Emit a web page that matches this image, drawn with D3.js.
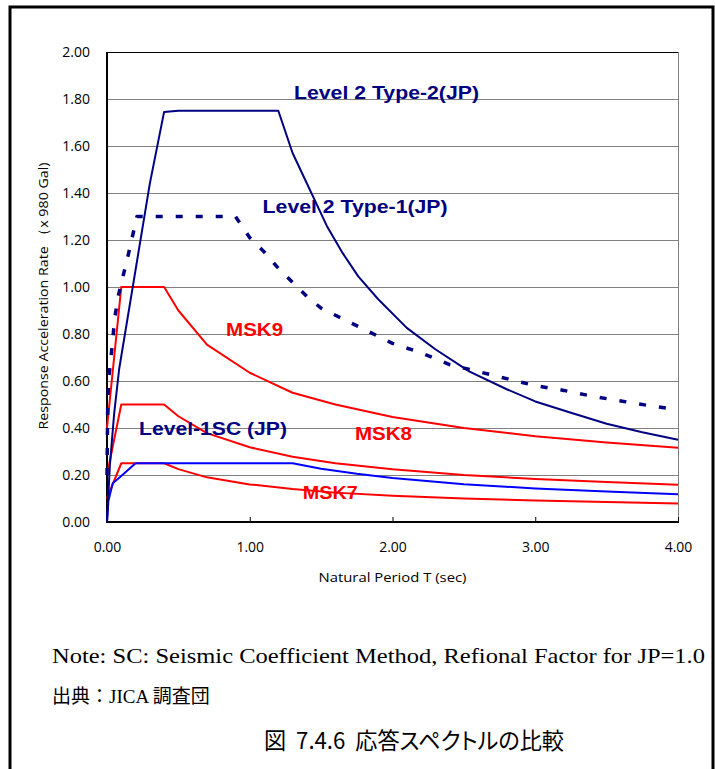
<!DOCTYPE html>
<html>
<head>
<meta charset="utf-8">
<script src="https://cdn.jsdelivr.net/npm/d3@7"></script>
<style>
  body { margin: 0; background: #fff; }
  svg { display: block; }
</style>
</head>
<body>
<div id="chart"></div>
<script>
// Spectrum values: [period T (sec), rate (x 980 Gal)]
var level2Type2 = [[0, 0], [0.02, 0.24], [0.05, 0.46], [0.085, 0.65], [0.3, 1.44], [0.4, 1.745], [0.5, 1.75],
  [1.2, 1.75], [1.3, 1.57], [1.54, 1.26], [1.65, 1.145], [1.76, 1.045], [1.9, 0.948], [2.1, 0.826],
  [2.3, 0.735], [2.54, 0.64], [2.8, 0.565], [3.0, 0.513], [3.25, 0.465], [3.5, 0.418], [3.75, 0.382], [4.0, 0.35]];
var level2Type1 = [[0, 0.2], [0.005, 0.5], [0.014, 0.62], [0.028, 0.7], [0.042, 0.79], [0.056, 0.875], [0.08, 0.965],
  [0.15, 1.14], [0.21, 1.3], [0.9, 1.3], [1.0, 1.21], [1.1, 1.15], [1.2, 1.08], [1.3, 1.02], [1.4, 0.96], [1.5, 0.91],
  [1.65, 0.865], [1.8, 0.82], [2.0, 0.76], [2.2, 0.72], [2.4, 0.67], [2.6, 0.64], [2.8, 0.61], [3.0, 0.58],
  [3.2, 0.56], [3.4, 0.535], [3.6, 0.515], [3.8, 0.495], [4.0, 0.477]];
var level1SC = [[0, 0], [0.01, 0.09], [0.04, 0.165], [0.09, 0.19], [0.2, 0.25], [1.3, 0.25], [1.5, 0.227],
  [1.75, 0.205], [2.0, 0.187], [2.5, 0.161], [3.0, 0.143], [3.5, 0.13], [4.0, 0.118]];
var msk9 = [[0, 0.4], [0.1, 1.0], [0.4, 1.0], [0.5, 0.9], [0.7, 0.755], [1.0, 0.635], [1.3, 0.55], [1.6, 0.5],
  [2.0, 0.447], [2.5, 0.4], [3.0, 0.365], [3.5, 0.338], [4.0, 0.316]];
var msk8 = [[0, 0.2], [0.1, 0.5], [0.4, 0.5], [0.5, 0.45], [0.7, 0.378], [1.0, 0.318], [1.3, 0.278], [1.6, 0.25],
  [2.0, 0.224], [2.5, 0.2], [3.0, 0.183], [3.5, 0.17], [4.0, 0.158]];
var msk7 = [[0, 0.1], [0.1, 0.25], [0.4, 0.25], [0.5, 0.225], [0.7, 0.19], [1.0, 0.16], [1.3, 0.14], [1.6, 0.125],
  [2.0, 0.112], [2.5, 0.1], [3.0, 0.092], [3.5, 0.085], [4.0, 0.079]];

var xTicks = [0, 1, 2, 3, 4];
var yTicks = [0, 0.2, 0.4, 0.6, 0.8, 1.0, 1.2, 1.4, 1.6, 1.8, 2.0];

var series = [
  { name: 'MSK7', data: msk7, color: '#ff0000', width: 2, dash: null },
  { name: 'MSK8', data: msk8, color: '#ff0000', width: 2, dash: null },
  { name: 'MSK9', data: msk9, color: '#ff0000', width: 2, dash: null },
  { name: 'Level-1SC (JP)', data: level1SC, color: '#0000ff', width: 2, dash: null },
  { name: 'Level 2 Type-1(JP)', data: level2Type1, color: '#000080', width: 3.5, dash: '7,13' },
  { name: 'Level 2 Type-2(JP)', data: level2Type2, color: '#000080', width: 2, dash: null }
];

// Labels placed inside the plot (in data units)
var labels = [
  { text: 'Level 2 Type-2(JP)', t: 1.31, v: 1.80, len: 185, color: '#000080' },
  { text: 'Level 2 Type-1(JP)', t: 1.09, v: 1.315, len: 185, color: '#000080' },
  { text: 'Level-1SC (JP)', t: 0.224, v: 0.37, len: 148, color: '#000080' },
  { text: 'MSK9', t: 0.834, v: 0.791, len: 57, color: '#ff0000' },
  { text: 'MSK8', t: 1.737, v: 0.349, len: 57, color: '#ff0000' },
  { text: 'MSK7', t: 1.372, v: 0.098, len: 55, color: '#ff0000' }
];

var W = 715, H = 769;
var plot = { left: 107, top: 52, right: 678, bottom: 522 };

var svg = d3.select('#chart').append('svg')
  .attr('width', W)
  .attr('height', H);

// outer frame
svg.append('path')
  .attr('d', 'M10,' + (H + 5) + 'V7H713V' + (H + 5))
  .attr('fill', 'none')
  .attr('stroke', '#000')
  .attr('stroke-width', 3);

var x = d3.scaleLinear().domain([0, 4]).range([plot.left, plot.right]);
var y = d3.scaleLinear().domain([0, 2]).range([plot.bottom, plot.top]);

var tickFont = '"Open Sans", Carlito, sans-serif';

// y grid + labels
var yAxis = svg.append('g')
  .attr('transform', 'translate(' + plot.left + ',0)')
  .call(d3.axisLeft(y).tickValues(yTicks).tickSize(-(plot.right - plot.left))
    .tickPadding(17).tickFormat(d3.format('.2f')));
yAxis.select('.domain').remove();
yAxis.selectAll('line').attr('stroke', '#808080');
yAxis.selectAll('.tick').filter(function (d) { return d === 2; }).select('line').attr('stroke', '#000');
yAxis.selectAll('text')
  .attr('fill', '#000')
  .style('font-family', tickFont)
  .style('font-size', '14px');

// right border of plot
svg.append('line')
  .attr('x1', plot.right + 0.5).attr('x2', plot.right + 0.5)
  .attr('y1', plot.top).attr('y2', plot.bottom)
  .attr('stroke', '#808080');

// x axis with inner ticks
var xAxis = svg.append('g')
  .attr('transform', 'translate(0,' + plot.bottom + ')')
  .call(d3.axisBottom(x).tickValues(xTicks).tickSize(-5).tickPadding(20)
    .tickFormat(d3.format('.2f')));
xAxis.select('.domain').remove();
xAxis.selectAll('line').attr('stroke', '#000').attr('stroke-width', 1);
xAxis.selectAll('text')
  .attr('fill', '#000')
  .style('font-family', tickFont)
  .style('font-size', '14px');

// axis lines
svg.append('line')
  .attr('x1', plot.left).attr('x2', plot.left)
  .attr('y1', plot.top).attr('y2', plot.bottom + 1)
  .attr('stroke', '#000').attr('stroke-width', 2);
svg.append('line')
  .attr('x1', plot.left - 1).attr('x2', plot.right + 1)
  .attr('y1', plot.bottom).attr('y2', plot.bottom)
  .attr('stroke', '#000').attr('stroke-width', 2);

// axis titles
svg.append('text')
  .attr('x', (plot.left + plot.right) / 2)
  .attr('y', 582)
  .attr('text-anchor', 'middle')
  .attr('textLength', 148)
  .attr('lengthAdjust', 'spacingAndGlyphs')
  .style('font-family', tickFont)
  .style('font-size', '13.5px')
  .text('Natural Period T (sec)');

svg.append('text')
  .attr('transform', 'translate(48,' + 296 + ') rotate(-90)')
  .attr('text-anchor', 'middle')
  .attr('textLength', 267)
  .attr('lengthAdjust', 'spacingAndGlyphs')
  .style('font-family', tickFont)
  .style('font-size', '13.5px')
  .text('Response Acceleration Rate （x 980 Gal)');

// curves
var line = d3.line()
  .x(function (d) { return x(d[0]); })
  .y(function (d) { return y(d[1]); });

var curves = svg.append('g');
series.forEach(function (s) {
  curves.append('path')
    .datum(s.data)
    .attr('fill', 'none')
    .attr('stroke', s.color)
    .attr('stroke-width', s.width)
    .attr('stroke-dasharray', s.dash)
    .attr('stroke-linejoin', 'round')
    .attr('d', line);
});

// labels
svg.append('g').selectAll('text')
  .data(labels)
  .enter()
  .append('text')
  .attr('x', function (d) { return x(d.t); })
  .attr('y', function (d) { return y(d.v); })
  .attr('fill', function (d) { return d.color; })
  .attr('textLength', function (d) { return d.len; })
  .attr('lengthAdjust', 'spacingAndGlyphs')
  .style('font-family', '"Liberation Sans", Arial, sans-serif')
  .style('font-weight', 'bold')
  .style('font-size', '19px')
  .text(function (d) { return d.text; });

// notes below the chart
svg.append('text')
  .attr('x', 52)
  .attr('y', 663)
  .attr('textLength', 653)
  .attr('lengthAdjust', 'spacingAndGlyphs')
  .style('font-family', '"Liberation Serif", "Times New Roman", serif')
  .style('font-size', '21px')
  .text('Note: SC: Seismic Coefficient Method, Refional Factor for JP=1.0');

svg.append('text')
  .attr('x', 52)
  .attr('y', 703)
  .style('font-family', '"Liberation Serif", "Noto Sans CJK JP", serif')
  .style('font-size', '19px')
  .text('出典：JICA 調査団');

svg.append('text')
  .attr('x', 414)
  .attr('y', 749)
  .attr('text-anchor', 'middle')
  .attr('textLength', 300)
  .attr('lengthAdjust', 'spacingAndGlyphs')
  .style('font-family', '"Noto Sans CJK JP", sans-serif')
  .style('font-size', '23px')
  .style('white-space', 'pre')
  .style('font-feature-settings', '"palt"')
  .text('図  7.4.6  応答スペクトルの比較');
</script>
</body>
</html>
